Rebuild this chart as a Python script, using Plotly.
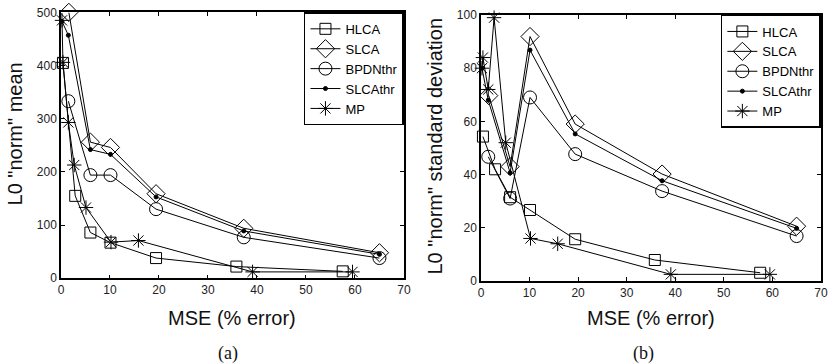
import plotly.graph_objects as go

# ---- data ----
mse_hlca = [0.4, 2.9, 6.0, 10.1, 19.4, 35.8, 57.5]
mean_hlca = [405, 155, 86, 67, 38, 22, 13]
std_hlca = [54.3, 42, 31.5, 26.7, 15.7, 7.9, 3.1]

mse_slca = [1.6, 6.0, 10.1, 19.4, 37.3, 65.0]
mean_slca = [500, 256, 246, 159, 94, 48]
std_slca = [69.7, 43, 91.9, 59, 40.2, 20.6]

mse_bpdn = [1.5, 6.0, 10.1, 19.4, 37.3, 65.0]
mean_bpdn = [333, 194, 194, 130, 77, 38]
std_bpdn = [46.7, 31, 69, 47.7, 33.8, 16.9]

mse_slcathr = [0.2, 1.5, 6.0, 10.1, 19.4, 37.3, 65.0]
mean_slcathr = [483, 457, 242, 233, 153, 89, 45]
std_slcathr = [80, 68, 40.7, 86.8, 55.3, 37.7, 19.8]

mse_mp = [0.2, 0.4, 1.5, 2.7, 5.1, 10.2, 15.8, 39.1, 59.5]
mean_mp = [485, 406, 293, 213, 133, 68, 71, 12, 12]
std_mp = [80, 84, 72, 99, 52, 16, 14, 2.5, 2.5]

x_ticks = [0, 10, 20, 30, 40, 50, 60, 70]
mean_ticks = [0, 100, 200, 300, 400, 500]
std_ticks = [0, 20, 40, 60, 80, 100]

names = ["HLCA", "SLCA", "BPDNthr", "SLCAthr", "MP"]
xs = [mse_hlca, mse_slca, mse_bpdn, mse_slcathr, mse_mp]
means = [mean_hlca, mean_slca, mean_bpdn, mean_slcathr, mean_mp]
stds = [std_hlca, std_slca, std_bpdn, std_slcathr, std_mp]
symbols = ["square-open", "diamond-open", "circle-open", "circle", "asterisk-open"]
sizes = [11, 14, 13, 4, 12]

fig = go.Figure()
for ys_list, xa, ya, leg in [(means, "x", "y", "legend"), (stds, "x2", "y2", "legend2")]:
    for name, x, y, sym, sz in zip(names, xs, ys_list, symbols, sizes):
        fig.add_trace(go.Scatter(
            x=x, y=y, name=name, mode="lines+markers",
            xaxis=xa, yaxis=ya, legend=leg,
            line=dict(color="black", width=1),
            marker=dict(symbol=sym, size=sz, color="black",
                        line=dict(color="black", width=1)),
            cliponaxis=False,
        ))

font_family = "Liberation Sans, Arial, sans-serif"
axis_common = dict(
    showline=True, linecolor="black", linewidth=1.5, mirror="ticks",
    ticks="inside", ticklen=4, tickcolor="black", showgrid=False, zeroline=False,
    automargin=False, ticklabeloverflow="allow",
    tickfont=dict(family=font_family, size=12, color="#222"),
)

title_font = dict(family=font_family, size=20, color="#111")
caption_font = dict(family="Liberation Serif, DejaVu Serif, serif", size=18, color="#111")


def ann(text, x, y, font, angle=0):
    return dict(text=text, x=x, y=y, xref="paper", yref="paper", showarrow=False,
                xanchor="center", yanchor="middle", textangle=angle, font=font)


fig.update_layout(
    template="none",
    width=830, height=364,
    margin=dict(l=0, r=0, t=0, b=0),
    paper_bgcolor="white", plot_bgcolor="white",
    showlegend=True,
    font=dict(family=font_family, color="black"),
    xaxis=dict(domain=[0.0735, 0.4867], range=[0, 70], tickmode="array", tickvals=x_ticks,
               anchor="y", **axis_common),
    yaxis=dict(domain=[0.2355, 0.966], range=[0, 500], tickmode="array", tickvals=mean_ticks,
               anchor="x", **axis_common),
    xaxis2=dict(domain=[0.5795, 0.989], range=[0, 70], tickmode="array", tickvals=x_ticks,
                anchor="y2", **axis_common),
    yaxis2=dict(domain=[0.228, 0.9588], range=[0, 100], tickmode="array", tickvals=std_ticks,
                anchor="x2", **axis_common),
    legend=dict(x=0.4867, y=0.966, xanchor="right", yanchor="top",
                bgcolor="white", bordercolor="black", borderwidth=1.5,
                font=dict(size=13, family=font_family), tracegroupgap=0, itemwidth=30),
    legend2=dict(x=0.989, y=0.9588, xanchor="right", yanchor="top",
                 bgcolor="white", bordercolor="black", borderwidth=1.5,
                 font=dict(size=13, family=font_family), tracegroupgap=0, itemwidth=30),
    annotations=[
        ann("MSE (% error)", 0.2801, 0.126, title_font),
        ann("MSE (% error)", 0.7843, 0.126, title_font),
        ann('L0 "norm" mean', 0.0175, 0.632, title_font, -90),
        ann('L0 "norm" standard deviation', 0.524, 0.600, title_font, -90),
        ann("(a)", 0.275, 0.030, caption_font),
        ann("(b)", 0.775, 0.030, caption_font),
    ],
)

fig.write_html(
    "out.html",
    config={"displayModeBar": False},
    post_script="document.body.style.margin='0';document.body.style.padding='0';",
)
